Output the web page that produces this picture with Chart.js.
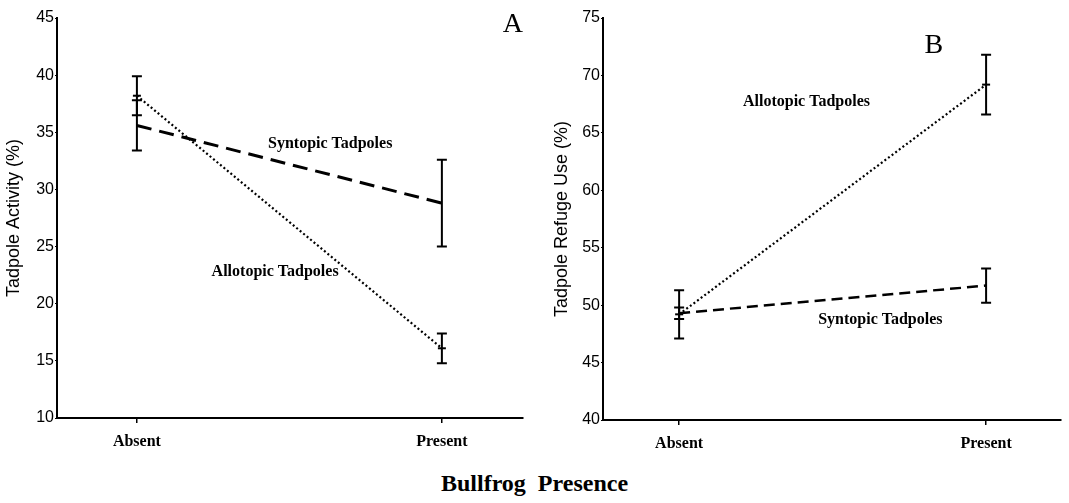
<!DOCTYPE html>
<html>
<head>
<meta charset="utf-8">
<script src="https://cdn.jsdelivr.net/npm/chart.js@4"></script>
<style>
  body { margin: 0; background: #fff; }
  #wrap { position: relative; width: 1069px; height: 503px; }
  #chartA { position: absolute; left: 0; top: 0; }
  #chartB { position: absolute; left: 540px; top: 0; }
  #xtitle {
    position: absolute; left: 0; width: 1069px; top: 470px;
    text-align: center; font: bold 24px "Liberation Serif", serif;
    word-spacing: 6px; color: #000;
  }
</style>
</head>
<body>
<div id="wrap">
  <canvas id="chartA" width="540" height="460"></canvas>
  <canvas id="chartB" width="529" height="460"></canvas>
  <div id="xtitle">Bullfrog Presence</div>
</div>
<script>
// bullfrog treatment groups
const groups = ['Absent', 'Present'];

// panel A: activity (%)
const activitySyntopic = [35.6, 28.8];
const activitySyntopicErr = [2.2, 3.8];
const activityAllotopic = [38.2, 16.1];
const activityAllotopicErr = [1.7, 1.3];
const activityTicks = [10, 15, 20, 25, 30, 35, 40, 45];

// panel B: refuge use (%)
const refugeSyntopic = [49.3, 51.7];
const refugeSyntopicErr = [0.5, 1.5];
const refugeAllotopic = [49.2, 69.2];
const refugeAllotopicErr = [2.1, 2.6];
const refugeTicks = [40, 45, 50, 55, 60, 65, 70, 75];

const black = '#000';

function toPoints(vals) {
    return vals.map((v, i) => ({ x: i, y: v }));
}

// draws the error bars from dataset.errors
const errorBarPlugin = {
    id: 'errorBars',
    afterDatasetsDraw(chart) {
        const ctx = chart.ctx;
        const yScale = chart.scales.y;
        chart.data.datasets.forEach((ds, di) => {
            if (!ds.errors) return;
            const meta = chart.getDatasetMeta(di);
            meta.data.forEach((pt, i) => {
                const v = ds.data[i].y;
                const e = ds.errors[i];
                const top = yScale.getPixelForValue(v + e);
                const bot = yScale.getPixelForValue(v - e);
                ctx.save();
                ctx.strokeStyle = black;
                ctx.lineWidth = 2;
                ctx.beginPath();
                ctx.moveTo(pt.x, top);
                ctx.lineTo(pt.x, bot);
                ctx.moveTo(pt.x - 5, top);
                ctx.lineTo(pt.x + 5, top);
                ctx.moveTo(pt.x - 5, bot);
                ctx.lineTo(pt.x + 5, bot);
                ctx.stroke();
                ctx.restore();
            });
        });
    }
};

// text labels placed in data coordinates
const notesPlugin = {
    id: 'notes',
    afterDraw(chart, args, opts) {
        const ctx = chart.ctx;
        (opts.items || []).forEach(n => {
            ctx.save();
            ctx.font = n.font;
            ctx.fillStyle = black;
            ctx.textAlign = n.align || 'left';
            ctx.textBaseline = 'middle';
            ctx.fillText(n.text, chart.scales.x.getPixelForValue(n.x), chart.scales.y.getPixelForValue(n.y));
            ctx.restore();
        });
    }
};

function makePanel(canvasId, cfg) {
    const ctx = document.getElementById(canvasId).getContext('2d');
    return new Chart(ctx, {
        type: 'line',
        data: {
            datasets: [
                {
                    label: 'Syntopic Tadpoles',
                    data: toPoints(cfg.syntopic),
                    errors: cfg.syntopicErr,
                    borderColor: black,
                    borderWidth: cfg.dashWidth,
                    borderDash: cfg.dash,
                    pointRadius: 0,
                    fill: false
                },
                {
                    label: 'Allotopic Tadpoles',
                    data: toPoints(cfg.allotopic),
                    errors: cfg.allotopicErr,
                    borderColor: black,
                    borderWidth: 2.2,
                    borderDash: [2, 2.5],
                    pointStyle: 'line',
                    pointRadius: 4,
                    pointBorderWidth: 2,
                    pointBorderColor: black,
                    fill: false
                }
            ]
        },
        options: {
            responsive: false,
            animation: false,
            layout: { padding: { top: 18, right: cfg.padRight, left: 0, bottom: 0 } },
            plugins: {
                legend: { display: false },
                tooltip: { enabled: false },
                notes: { items: cfg.notes }
            },
            scales: {
                x: {
                    type: 'linear',
                    min: cfg.xMin,
                    max: cfg.xMax,
                    afterBuildTicks: s => { s.ticks = groups.map((g, i) => ({ value: i })); },
                    afterFit: s => { s.height = 460 - cfg.bottom; },
                    ticks: {
                        callback: v => groups[v],
                        color: black,
                        font: { family: 'Liberation Serif', weight: 'bold', size: 16 },
                        padding: 9,
                        maxRotation: 0
                    },
                    grid: { display: true, drawOnChartArea: false, tickLength: 5, color: black, lineWidth: 1.5 },
                    border: { display: true, color: black, width: 2 }
                },
                y: {
                    min: cfg.ticks[0],
                    max: cfg.ticks[cfg.ticks.length - 1],
                    afterBuildTicks: s => { s.ticks = cfg.ticks.map(v => ({ value: v })); },
                    afterFit: s => { s.width = cfg.yWidth; },
                    ticks: {
                        color: black,
                        font: { family: 'Liberation Sans', size: 16 },
                        padding: 1
                    },
                    grid: { display: true, drawOnChartArea: false, tickLength: 2, color: black, lineWidth: 1 },
                    border: { display: true, color: black, width: 2 },
                    title: {
                        display: true,
                        text: cfg.yTitle,
                        color: black,
                        font: { family: 'Liberation Sans', size: 18 },
                        padding: { top: cfg.titlePad, bottom: 0 }
                    }
                }
            }
        },
        plugins: [errorBarPlugin, notesPlugin]
    });
}

makePanel('chartA', {
    syntopic: activitySyntopic,
    syntopicErr: activitySyntopicErr,
    allotopic: activityAllotopic,
    allotopicErr: activityAllotopicErr,
    ticks: activityTicks,
    yTitle: 'Tadpole Activity (%)',
    dash: [15, 8],
    dashWidth: 3,
    xMin: -0.262,
    xMax: 1.266,
    yWidth: 57,
    padRight: 17,
    bottom: 418,
    titlePad: 3,
    notes: [
        { text: 'A', x: 1.233, y: 44.4, font: '28px "Liberation Serif"', align: 'center' },
        { text: 'Syntopic Tadpoles', x: 0.43, y: 34.0, font: 'bold 16px "Liberation Serif"' },
        { text: 'Allotopic Tadpoles', x: 0.245, y: 22.8, font: 'bold 16px "Liberation Serif"' }
    ]
});

makePanel('chartB', {
    syntopic: refugeSyntopic,
    syntopicErr: refugeSyntopicErr,
    allotopic: refugeAllotopic,
    allotopicErr: refugeAllotopicErr,
    ticks: refugeTicks,
    yTitle: 'Tadpole Refuge Use (%)',
    dash: [11, 6],
    dashWidth: 2.5,
    xMin: -0.248,
    xMax: 1.244,
    yWidth: 63,
    padRight: 8,
    bottom: 420,
    titlePad: 11,
    notes: [
        { text: 'B', x: 0.83, y: 72.6, font: '28px "Liberation Serif"', align: 'center' },
        { text: 'Allotopic Tadpoles', x: 0.208, y: 67.7, font: 'bold 16px "Liberation Serif"' },
        { text: 'Syntopic Tadpoles', x: 0.453, y: 48.75, font: 'bold 16px "Liberation Serif"' }
    ]
});
</script>
</body>
</html>
